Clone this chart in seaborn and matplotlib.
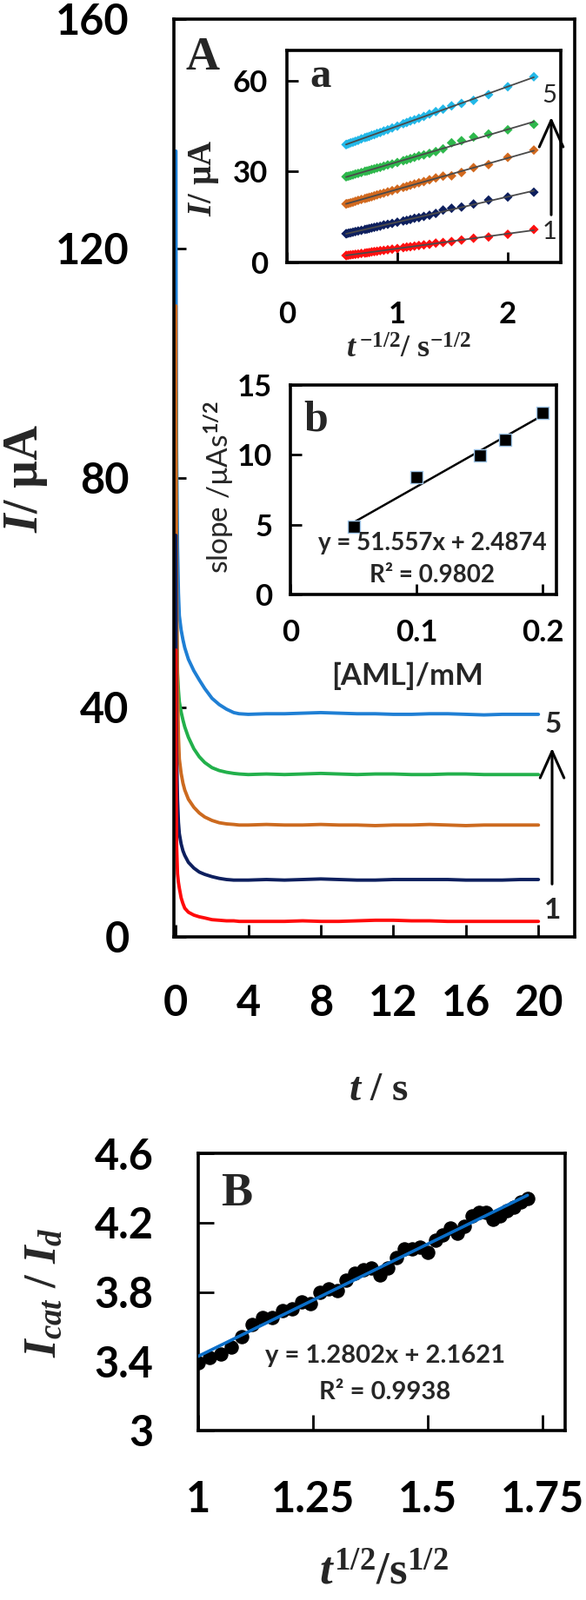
import matplotlib
matplotlib.use("Agg")
import matplotlib.pyplot as plt
import matplotlib.patches as mpatches
import seaborn as sns

# ---------------- data ----------------
# Panel A: chronoamperograms, time in s
t_main = [0.01, 0.02, 0.05, 0.1, 0.15, 0.2, 0.3, 0.4, 0.5, 0.7, 1.0, 1.3, 1.6, 2.0, 2.4, 2.8, 3.2, 3.5, 4.0,
          5, 6, 7, 8, 9, 10, 11, 12, 13, 14, 15, 16, 17, 18, 19, 20]
I_curve5 = [137, 112, 85, 68, 60, 56, 53.5, 51.8, 50.4, 48.4, 46.4, 44.8, 43.3, 41.6, 40.5, 39.7, 39.1, 38.9, 38.8,
            38.9, 38.9, 39.0, 39.1, 39.0, 38.9, 38.9, 38.8, 38.8, 38.9, 38.9, 38.8, 38.7, 38.8, 38.8, 38.8]
I_curve4 = [95, 75, 55, 46, 43, 41, 39.2, 37.8, 36.6, 34.8, 32.8, 31.4, 30.4, 29.5, 29.0, 28.7, 28.5, 28.4, 28.3,
            28.4, 28.3, 28.4, 28.5, 28.4, 28.3, 28.4, 28.4, 28.3, 28.3, 28.4, 28.4, 28.3, 28.3, 28.3, 28.3]
I_curve3 = [110, 90, 62, 44, 35, 31, 28.5, 26.8, 25.6, 24.0, 22.6, 21.6, 20.9, 20.3, 19.9, 19.7, 19.6, 19.5, 19.5,
            19.6, 19.5, 19.5, 19.6, 19.5, 19.5, 19.4, 19.5, 19.5, 19.6, 19.5, 19.4, 19.5, 19.5, 19.5, 19.5]
I_curve2 = [70, 50, 32, 24, 20, 18, 16.2, 15.0, 14.2, 13.0, 12.0, 11.3, 10.9, 10.5, 10.2, 10.0, 9.9, 9.9, 9.9,
            10.0, 9.9, 10.0, 10.1, 10.0, 9.9, 9.9, 10.0, 10.0, 10.0, 10.0, 9.9, 9.9, 9.9, 10.0, 10.0]
I_curve1 = [50, 30, 16, 11, 9.5, 8.5, 6.8, 5.8, 5.0, 4.3, 3.8, 3.5, 3.3, 3.0, 2.9, 2.8, 2.8, 2.7, 2.7,
            2.7, 2.7, 2.8, 2.7, 2.7, 2.8, 2.9, 2.9, 2.8, 2.8, 2.7, 2.7, 2.7, 2.7, 2.7, 2.7]

# Inset a: I vs t^-1/2
x_inv = [2.236, 2.000, 1.826, 1.690, 1.581, 1.491, 1.414, 1.348, 1.291, 1.240, 1.195, 1.155, 1.118, 1.085,
         1.054, 1.000, 0.953, 0.913, 0.877, 0.845, 0.816, 0.791, 0.767, 0.745, 0.725, 0.707, 0.674, 0.645,
         0.620, 0.598, 0.577, 0.559, 0.542, 0.535]
ia_1 = [10.9, 9.3, 8.4, 8.0, 7.4, 6.9, 6.6, 6.4, 6.0, 5.8, 5.6, 5.4, 5.2, 5.1, 4.9, 4.6, 4.4, 4.2, 4.0, 3.9,
        3.7, 3.6, 3.5, 3.3, 3.2, 3.1, 3.0, 2.8, 2.7, 2.6, 2.5, 2.4, 2.3, 2.3]
ia_2 = [23.2, 21.6, 20.6, 19.3, 18.3, 17.9, 17.3, 16.2, 15.6, 15.2, 14.8, 14.6, 14.2, 13.9, 13.7, 13.3, 12.9,
        12.6, 12.4, 12.0, 11.8, 11.6, 11.4, 11.2, 11.0, 10.9, 10.6, 10.4, 10.2, 10.0, 9.8, 9.7, 9.5, 9.5]
ia_3 = [37.1, 34.7, 32.3, 31.3, 29.7, 28.6, 28.5, 27.9, 27.3, 26.7, 26.3, 25.9, 25.5, 25.1, 24.8, 24.2, 23.7,
        23.3, 22.9, 22.6, 22.3, 22.0, 21.7, 21.5, 21.3, 21.1, 20.8, 20.5, 20.2, 19.9, 19.7, 19.5, 19.4, 19.3]
ia_4 = [45.6, 43.8, 42.4, 41.4, 40.2, 39.5, 37.5, 36.6, 36.0, 35.5, 35.2, 34.7, 34.3, 33.9, 33.6, 33.0, 32.5,
        32.2, 31.8, 31.4, 31.2, 30.9, 30.7, 30.4, 30.2, 30.1, 29.7, 29.4, 29.2, 28.9, 28.7, 28.5, 28.4, 28.3]
ia_5 = [61.3, 58.0, 55.4, 53.5, 52.5, 51.7, 50.6, 49.8, 49.0, 48.2, 47.6, 47.1, 46.7, 46.2, 45.8, 45.0, 44.4,
        43.8, 43.4, 42.9, 42.6, 42.2, 42.0, 41.6, 41.4, 41.2, 40.8, 40.3, 40.0, 39.7, 39.5, 39.2, 39.0, 38.9]

# Inset b: slope vs concentration
conc_mM = [0.05, 0.10, 0.15, 0.17, 0.20]
slope_b = [4.85, 8.40, 9.95, 11.05, 13.0]

# Panel B: Icat/Id vs t^1/2
x_sqrt = [1.000, 1.025, 1.049, 1.072, 1.095, 1.118, 1.140, 1.162, 1.183, 1.204, 1.225, 1.245, 1.265, 1.285,
          1.304, 1.323, 1.342, 1.360, 1.378, 1.396, 1.414, 1.432, 1.449, 1.466, 1.483, 1.500, 1.517, 1.533,
          1.549, 1.565, 1.581, 1.597, 1.612, 1.628, 1.643, 1.658, 1.673, 1.688, 1.703, 1.718]
ratio_B = [3.39, 3.42, 3.44, 3.48, 3.54, 3.61, 3.65, 3.65, 3.69, 3.70, 3.74, 3.73, 3.80, 3.82, 3.81, 3.87,
           3.91, 3.93, 3.94, 3.90, 3.94, 4.00, 4.05, 4.05, 4.06, 4.03, 4.10, 4.13, 4.17, 4.14, 4.18, 4.24,
           4.26, 4.26, 4.22, 4.24, 4.27, 4.29, 4.32, 4.34]

main_xticks = [0, 4, 8, 12, 16, 20]
main_yticks = [0, 40, 80, 120, 160]
a_xticks = [0, 1, 2]
a_yticks = [0, 30, 60]
b_xticks = [0, 0.1, 0.2]
b_xticklabels = ["0", "0.1", "0.2"]
b_yticks = [0, 5, 10, 15]
B_xticks = [1, 1.25, 1.5, 1.75]
B_xticklabels = ["1", "1.25", "1.5", "1.75"]
B_yticks = [3, 3.4, 3.8, 4.2, 4.6]
B_yticklabels = ["3", "3.4", "3.8", "4.2", "4.6"]

# ---------------- style ----------------
sns.set_theme(style="white")
plt.rcParams["font.family"] = ["Lato", "DejaVu Sans"]
plt.rcParams["font.weight"] = "bold"
plt.rcParams["mathtext.fontset"] = "custom"
plt.rcParams["mathtext.rm"] = "Liberation Serif:bold"
plt.rcParams["mathtext.it"] = "Liberation Serif:italic:bold"
plt.rcParams["mathtext.bf"] = "Liberation Serif:bold"
plt.rcParams["mathtext.sf"] = "Lato"

W, H = 674, 1841
fig = plt.figure(figsize=(W / 100, H / 100), dpi=100)
fig.patch.set_facecolor("white")


def rect(l, t, r, b):
    return [l / W, 1 - b / H, (r - l) / W, (b - t) / H]


def fx(x):
    return x / W


def fy(y):
    return 1 - y / H


def style(ax, size, padx, pady, tlen, tw=2.0, lw=2.6):
    for s in ax.spines.values():
        s.set_visible(True)
        s.set_color("black")
        s.set_linewidth(lw)
    ax.tick_params(axis="both", which="both", direction="in", length=tlen, width=tw, color="black",
                   labelsize=size, labelcolor="black", bottom=True, left=True, top=False, right=False)
    ax.tick_params(axis="x", pad=padx)
    ax.tick_params(axis="y", pad=pady)
    ax.set_xlabel("")
    ax.set_ylabel("")
    ax.grid(False)
    ax.set_facecolor("white")
    for lab in ax.get_xticklabels() + ax.get_yticklabels():
        lab.set_fontweight("bold")


def arrow(x, y0, y1):
    fig.add_artist(mpatches.FancyArrowPatch(
        (fx(x), fy(y0)), (fx(x), fy(y1)), transform=fig.transFigure,
        arrowstyle="->,head_length=1.0,head_width=0.45", mutation_scale=22, lw=2.2, color="black"))


serif = "Liberation Serif"

# ---------------- Panel A main ----------------
ax = fig.add_axes(rect(200, 22, 661, 1078))
main_series = [(I_curve5, "#1f7fd4"), (I_curve4, "#22b04b"), (I_curve3, "#cc6a1f"),
               (I_curve2, "#0d1f5e"), (I_curve1, "#ff0a0a")]
for vals, col in main_series:
    sns.lineplot(x=t_main, y=vals, color=col, linewidth=2.8, ax=ax)
ax.set_xlim(-0.1, 22)
ax.set_ylim(0, 160)
ax.set_xticks(main_xticks)
ax.set_yticks(main_yticks)
style(ax, 35, 39, 37, 10)

fig.text(fx(30), fy(550), r"$I$/ µA", rotation=90, ha="center", va="center",
         fontsize=40, family=serif, weight="bold")
fig.text(fx(436), fy(1255), r"$t$ / s", ha="center", va="center", fontsize=34, family=serif, weight="bold")
fig.text(fx(233), fy(80), "A", ha="center", va="baseline", fontsize=39, family=serif, weight="bold")
fig.text(fx(636), fy(843), "5", ha="center", va="baseline", fontsize=24, weight="bold")
fig.text(fx(636), fy(1057), "1", ha="center", va="baseline", fontsize=24, weight="bold")
arrow(635, 1020, 858)

# ---------------- Inset a ----------------
axa = fig.add_axes(rect(330, 58, 645, 302))
inset_series = [(ia_1, "#ff1010"), (ia_2, "#0d1f5e"), (ia_3, "#d2691e"), (ia_4, "#2eb84c"), (ia_5, "#22b8e8")]
for vals, col in inset_series:
    sns.scatterplot(x=x_inv, y=vals, marker="D", s=32, color=col, edgecolor="none", ax=axa, zorder=2)
    sns.regplot(x=x_inv, y=vals, scatter=False, ci=None, ax=axa,
                line_kws=dict(color="#4a4a4a", linewidth=1.3, zorder=3))
axa.set_xlim(0, 2.48)
axa.set_ylim(0, 70)
axa.set_xticks(a_xticks)
axa.set_yticks(a_yticks)
style(axa, 25, 32, 16, 9)
fig.text(fx(234), fy(205), r"$I$/ µA", rotation=90, ha="center", va="center",
         fontsize=28, family=serif, weight="bold")
fig.text(fx(470), fy(403), r"$t^{\,\mathrm{-1/2}}$/ s$^{\mathrm{-1/2}}$", ha="center", va="center",
         fontsize=26, family=serif, weight="bold")
fig.text(fx(369), fy(100), "a", ha="center", va="baseline", fontsize=35, family=serif, weight="bold")
fig.text(fx(632), fy(118), "5", ha="center", va="baseline", fontsize=21, weight="normal")
fig.text(fx(632), fy(275), "1", ha="center", va="baseline", fontsize=21, weight="normal")
arrow(634, 250, 132)

# ---------------- Inset b ----------------
axb = fig.add_axes(rect(334, 443, 640, 684))
sns.regplot(x=conc_mM, y=slope_b, scatter=False, ci=None, ax=axb,
            line_kws=dict(color="black", linewidth=1.8, zorder=2))
sns.scatterplot(x=conc_mM, y=slope_b, marker="s", s=90, color="black", edgecolor="#9dc3e6",
                linewidth=1.0, ax=axb, zorder=3)
axb.set_xlim(0, 0.211)
axb.set_ylim(0, 15)
axb.set_xticks(b_xticks)
axb.set_xticklabels(b_xticklabels)
axb.set_yticks(b_yticks)
style(axb, 25, 20, 15, 9)
fig.text(fx(252), fy(560), r"slope /µAs$^{\mathsf{1/2}}$", rotation=90, ha="center", va="center",
         fontsize=24, weight="normal")
fig.text(fx(469), fy(778), "[AML]/mM", ha="center", va="center", fontsize=25, weight="bold")
fig.text(fx(363), fy(495), "b", ha="center", va="baseline", fontsize=36, family=serif, weight="bold")
fig.text(fx(497), fy(633), "y = 51.557x + 2.4874", ha="center", va="baseline", fontsize=20, weight="bold")
fig.text(fx(497), fy(670), "R² = 0.9802", ha="center", va="baseline", fontsize=20, weight="bold")

# ---------------- Panel B ----------------
axB = fig.add_axes(rect(228, 1327, 650, 1646))
sns.scatterplot(x=x_sqrt, y=ratio_B, marker="o", s=120, color="black", edgecolor="black", ax=axB, zorder=2)
sns.regplot(x=x_sqrt, y=ratio_B, scatter=False, ci=None, ax=axB,
            line_kws=dict(color="#0a6ec8", linewidth=2.6, zorder=3))
axB.set_xlim(1.0, 1.8)
axB.set_ylim(3, 4.6)
axB.set_xticks(B_xticks)
axB.set_xticklabels(B_xticklabels)
axB.set_yticks(B_yticks)
axB.set_yticklabels(B_yticklabels)
style(axB, 35, 41, 37, 13)
fig.text(fx(51), fy(1487), r"$I_{cat}$ / $I_{d}$", rotation=90, ha="center", va="center",
         fontsize=38, family=serif, weight="bold")
fig.text(fx(441), fy(1810), r"$t^{\mathrm{1/2}}$/s$^{\mathrm{1/2}}$", ha="center", va="center",
         fontsize=38, family=serif, weight="bold")
fig.text(fx(272), fy(1387), "B", ha="center", va="baseline", fontsize=39, family=serif, weight="bold")
fig.text(fx(443), fy(1568), "y = 1.2802x + 2.1621", ha="center", va="baseline", fontsize=21, weight="bold")
fig.text(fx(443), fy(1610), "R² = 0.9938", ha="center", va="baseline", fontsize=21, weight="bold")

fig.savefig("out.png", dpi=100, facecolor="white")
